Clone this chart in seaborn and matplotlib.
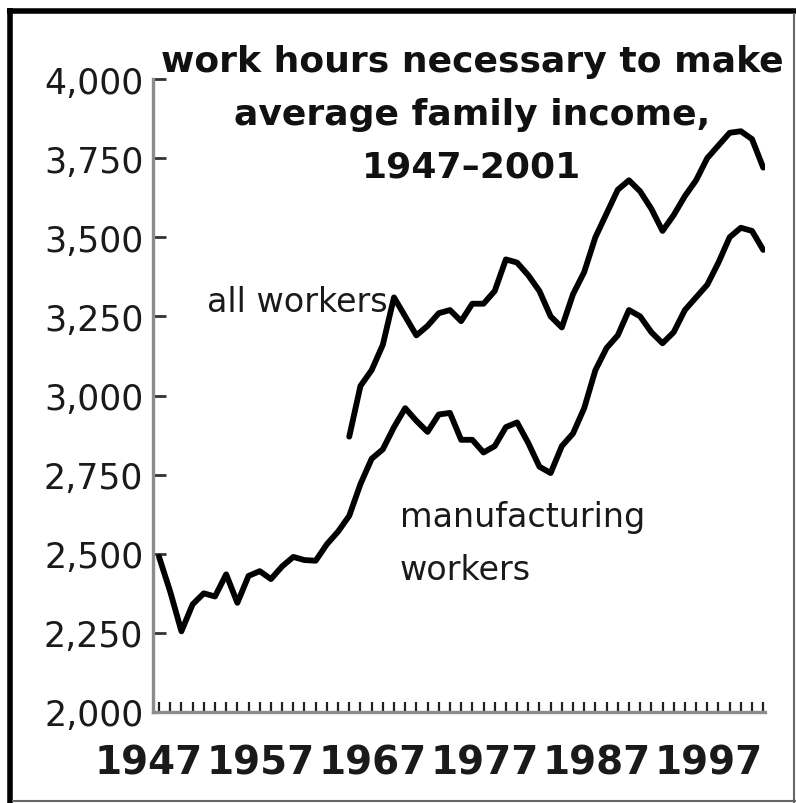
import matplotlib
matplotlib.use("Agg")
import matplotlib.pyplot as plt
from matplotlib.lines import Line2D
from matplotlib.ticker import FixedLocator, StrMethodFormatter
from matplotlib.transforms import ScaledTranslation
import seaborn as sns

# ── Data ───────────────────────────────────────────────────────
mfg_years = list(range(1947, 2002))
mfg_hours = [2490, 2380, 2255, 2340, 2375, 2365, 2435, 2345, 2430, 2445,
             2420, 2460, 2490, 2480, 2478, 2530, 2570, 2620, 2720, 2800,
             2830, 2900, 2960, 2920, 2885, 2940, 2945, 2860, 2860, 2820,
             2840, 2900, 2915, 2850, 2775, 2755, 2840, 2880, 2960, 3080,
             3150, 3190, 3270, 3250, 3200, 3165, 3200, 3270, 3310, 3350,
             3420, 3500, 3530, 3520, 3460]

all_years = list(range(1964, 2002))
all_hours = [2870, 3030, 3080, 3160, 3310, 3250, 3190, 3220, 3260, 3270,
             3235, 3290, 3290, 3330, 3430, 3420, 3380, 3330, 3250, 3215,
             3320, 3390, 3500, 3575, 3650, 3680, 3645, 3590, 3520, 3570,
             3630, 3680, 3750, 3790, 3830, 3835, 3810, 3720]

y_ticks = [2000, 2250, 2500, 2750, 3000, 3250, 3500, 3750, 4000]
x_label_years = [1947, 1957, 1967, 1977, 1987, 1997]
title_lines = ["work hours necessary to make",
               "average family income,",
               "1947\u20132001"]

# ── Style ──────────────────────────────────────────────────────
sns.set_theme(style="white")
plt.rcParams["font.family"] = "DejaVu Sans"

W, H = 796, 804
fig = plt.figure(figsize=(W / 100, H / 100), dpi=100)
ax = fig.add_axes([153 / W, 91 / H, 612 / W, 633 / H])

sns.lineplot(x=mfg_years, y=mfg_hours, ax=ax, color="black", linewidth=4.2)
sns.lineplot(x=all_years, y=all_hours, ax=ax, color="black", linewidth=4.2)

ax.set_xlim(1946.46, 2001.16)
ax.set_ylim(2000, 4000)

sns.despine(ax=ax)
for side in ["left", "bottom"]:
    ax.spines[side].set_color("#8c8c8c")
    ax.spines[side].set_linewidth(2.4)

ax.set_yticks(y_ticks)
ax.yaxis.set_major_formatter(StrMethodFormatter("{x:,.0f}"))
ax.tick_params(axis="y", which="major", left=True, direction="in", length=9,
               width=2, color="#333333", pad=7, labelsize=25,
               labelcolor="#1a1a1a")

# one small tick per year, labels every ten years
ax.xaxis.remove_overlapping_locs = False
ax.set_xticks(x_label_years)
ax.set_xticklabels([str(y) for y in x_label_years])
ax.xaxis.set_minor_locator(FixedLocator(mfg_years))
ax.tick_params(axis="x", which="major", bottom=True, length=0, pad=23,
               labelsize=28, labelcolor="#1a1a1a")
ax.tick_params(axis="x", which="minor", bottom=True, direction="in",
               length=7, width=1.6, color="#222222")
shift = ScaledTranslation(-10 / 100, 0, fig.dpi_scale_trans)
for lbl in ax.get_xticklabels():
    lbl.set_fontweight("bold")
    lbl.set_transform(lbl.get_transform() + shift)

ax.set_xlabel("")
ax.set_ylabel("")

# series labels
ax.text(1951.3, 3267, "all workers", fontsize=24, color="#1a1a1a",
        ha="left", va="baseline")
ax.text(1968.5, 2588, "manufacturing", fontsize=24, color="#1a1a1a",
        ha="left", va="baseline")
ax.text(1968.5, 2420, "workers", fontsize=24, color="#1a1a1a",
        ha="left", va="baseline")

# title, one line at a time
for i, line in enumerate(title_lines):
    fig.text(472 / W, 1 - (72 + 53 * i) / H, line, fontsize=26,
             fontweight="bold", color="#111111", ha="center", va="baseline")

# frame round the picture
frame = dict(transform=fig.transFigure, solid_capstyle="butt")
fig.add_artist(Line2D([7.2 / W, 796 / W], [1 - 11.5 / H, 1 - 11.5 / H],
                      color="black", linewidth=4, **frame))
fig.add_artist(Line2D([10 / W, 10 / W], [1 - 8.7 / H, 0],
                      color="black", linewidth=4, **frame))
fig.add_artist(Line2D([794 / W, 794 / W], [1 - 14 / H, 0],
                      color="#666666", linewidth=1.5, **frame))
fig.add_artist(Line2D([12 / W, 796 / W], [1 - 802 / H, 1 - 802 / H],
                      color="#666666", linewidth=1.5, **frame))

fig.savefig("out.png", dpi=100)
